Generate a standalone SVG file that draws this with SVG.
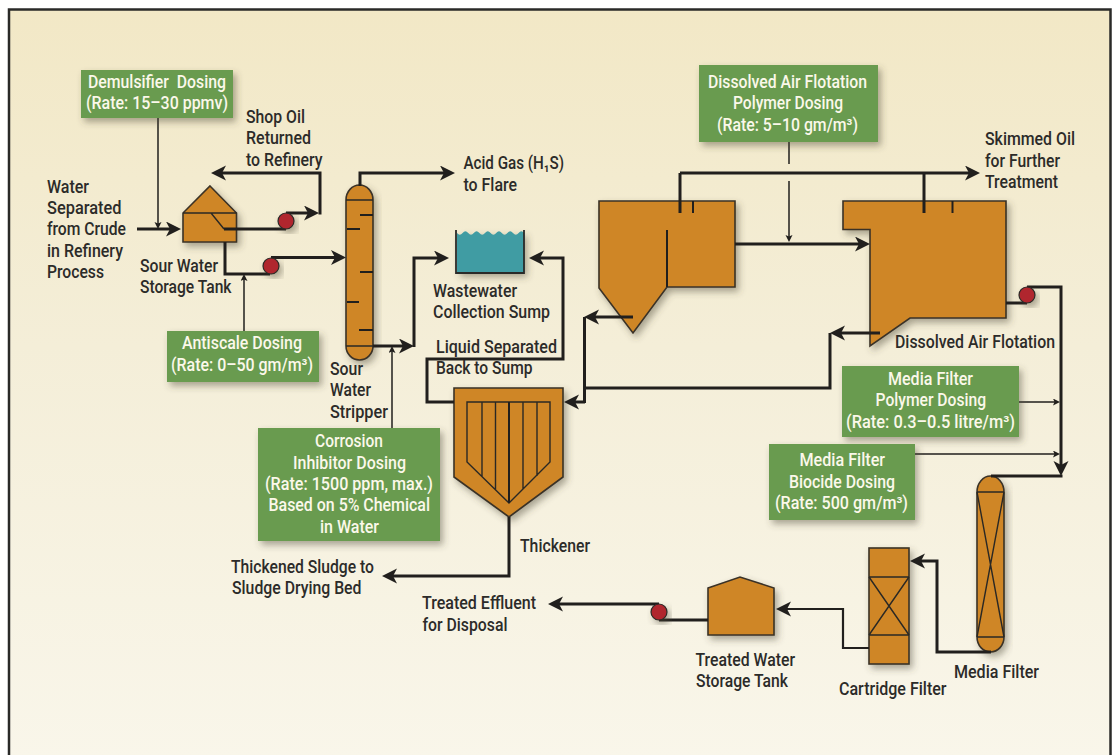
<svg xmlns="http://www.w3.org/2000/svg" width="1113" height="755" viewBox="0 0 1113 755">
<style>
text{font-family:Roboto,"Liberation Sans",Arial,sans-serif;font-size:17.500px;font-weight:500}
.d{fill:#2c2b29}
.w{fill:#fbf8ea}
.tank{fill:#cf8627;stroke:#3a3226;stroke-width:1.600;stroke-linejoin:miter}
.box{fill:#699b4f}
.pump{fill:#b0272d;stroke:#2a2a28;stroke-width:1.200}
.in{fill:none;stroke:#2a2824;stroke-width:1.400}
.tray{fill:none;stroke:#211f1d;stroke-width:2}
.pipe{fill:none;stroke:#211f1d;stroke-width:3}
.med{fill:none;stroke:#211f1d;stroke-width:2.200}
.thin{fill:none;stroke:#211f1d;stroke-width:1.500}
.a{marker-end:url(#big)}
.s{marker-end:url(#small)}
</style>
<defs>
<linearGradient id="bg" x1="0" y1="0" x2="0" y2="1">
<stop offset="0" stop-color="#f2e8c6"/><stop offset="0.45" stop-color="#f4eed8"/><stop offset="1" stop-color="#f9f6ea"/>
</linearGradient>
<filter id="sh" x="-20%" y="-20%" width="150%" height="150%">
<feDropShadow dx="3" dy="4" stdDeviation="3.500" flood-color="#4a4535" flood-opacity="0.45"/>
</filter>
<marker id="big" markerUnits="userSpaceOnUse" markerWidth="18" markerHeight="16" refX="9" refY="7.500" orient="auto">
<path d="M0 0 L15 7.500 L0 15 L4 7.500 Z" fill="#211f1d"/>
</marker>
<marker id="small" markerUnits="userSpaceOnUse" markerWidth="10" markerHeight="10" refX="3" refY="3.500" orient="auto">
<path d="M0 0 L7 3.500 L0 7 L1.500 3.500 Z" fill="#211f1d"/>
</marker>
</defs>

<rect id="frame" x="9" y="9.500" width="1101.500" height="750" fill="url(#bg)" stroke="#2a2a28" stroke-width="2.500"/>

<g id="sour-water-storage-tank">
<path class="tank" filter="url(#sh)" d="M210 186 L236.500 213 V242 H183 V213 Z"/>
<path class="in" d="M183 213 H236.500 M211 213 L224 229"/>
<text class="d" x="140" y="272" textLength="78" lengthAdjust="spacingAndGlyphs">Sour Water</text>
<text class="d" x="140" y="293" textLength="91.500" lengthAdjust="spacingAndGlyphs">Storage Tank</text>
</g>

<g id="sour-water-stripper">
<path class="tank" filter="url(#sh)" d="M346 200 A13.500 15 0 0 1 373 200 V346 A13.500 14 0 0 1 346 346 Z"/>
<path class="in" d="M346 200 H373 M346 346 H373"/>
<path class="tray" d="M360 215 H373 M347 229 H360 M360 272 H373 M347 302 H359 M359 330 H373"/>
<text class="d" x="330" y="375" textLength="33" lengthAdjust="spacingAndGlyphs">Sour</text>
<text class="d" x="330" y="396" textLength="41" lengthAdjust="spacingAndGlyphs">Water</text>
<text class="d" x="330" y="418" textLength="58" lengthAdjust="spacingAndGlyphs">Stripper</text>
</g>

<g id="wastewater-collection-sump">
<path filter="url(#sh)" fill="#3f9ca3" d="M457 233 q2.800 3.500 5.600 0 t5.600 0 t5.600 0 t5.600 0 t5.600 0 t5.600 0 t5.600 0 t5.600 0 t5.600 0 t5.600 0 t5.600 0 t5.600 0 V273 H457 Z"/>
<path fill="none" stroke="#2a2a28" stroke-width="1.800" d="M456 230 V273 H524 V230"/>
<text class="d" x="433" y="297" textLength="84" lengthAdjust="spacingAndGlyphs">Wastewater</text>
<text class="d" x="433" y="318" textLength="117" lengthAdjust="spacingAndGlyphs">Collection Sump</text>
</g>

<g id="thickener">
<path class="tank" filter="url(#sh)" d="M454 388 H563 V477 L509 517 L454 477 Z"/>
<path class="in" d="M467 402 H550 V462 L509 503 L467 462 Z M482 402 V477 M495.500 402 V490 M523 402 V489 M537 402 V476"/>
<path class="tray" d="M509 402 V503"/>
<text class="d" x="520" y="552" textLength="70" lengthAdjust="spacingAndGlyphs">Thickener</text>
</g>

<g id="daf-separator">
<path class="tank" filter="url(#sh)" d="M599 201 H735 V287 H667 L633 333 L599 288 Z"/>
<path class="tray" d="M667 230 V287 M693 201 V213"/>
</g>

<g id="dissolved-air-flotation">
<path class="tank" filter="url(#sh)" d="M843 201 H1006 V318 H910 L870 346 V229.500 H843 Z"/>
<path class="tray" d="M952.500 201 V213"/>
<text class="d" x="895" y="348" textLength="160" lengthAdjust="spacingAndGlyphs">Dissolved Air Flotation</text>
</g>

<g id="media-filter">
<path class="tank" filter="url(#sh)" d="M977 492 A13.500 16 0 0 1 1004 492 V637 A13.500 15 0 0 1 977 637 Z"/>
<path class="in" d="M977 492 H1004 M977 637 H1004 M977 492 L1004 637 M1004 492 L977 637"/>
<text class="d" x="954" y="678" textLength="85" lengthAdjust="spacingAndGlyphs">Media Filter</text>
</g>

<g id="cartridge-filter">
<rect class="tank" filter="url(#sh)" x="869" y="548" width="40" height="116"/>
<path class="in" d="M869 577 H909 M869 635 H909 M869 577 L909 635 M909 577 L869 635"/>
<text class="d" x="839" y="695" textLength="107.500" lengthAdjust="spacingAndGlyphs">Cartridge Filter</text>
</g>

<g id="treated-water-storage-tank">
<path class="tank" filter="url(#sh)" d="M708 588 L740 577 L774 588 V635 H708 Z"/>
<text class="d" x="695.500" y="666" textLength="99.500" lengthAdjust="spacingAndGlyphs">Treated Water</text>
<text class="d" x="696" y="687" textLength="92" lengthAdjust="spacingAndGlyphs">Storage Tank</text>
</g>

<g id="connectors">
<path class="pipe a" d="M137 229 H175"/>
<path class="pipe" d="M224 229 H286"/>
<path class="pipe a" d="M286 213 H313"/>
<path class="pipe a" d="M320 214.500 V173 H217"/>
<path class="pipe" d="M225 242 V274 H270"/>
<path class="pipe a" d="M271 257.500 H340"/>
<path class="pipe a" d="M360 186 V173 H449"/>
<path class="pipe a" d="M373 346 H408"/>
<path class="pipe a" d="M414 347 V258 H443"/>
<path class="pipe a" d="M454 402 H427 V359 H563 V258 H535"/>
<path class="pipe a" d="M509 517 V576 H388"/>
<path class="pipe a" d="M585 402 H570"/>
<path class="pipe a" d="M633 317 H590"/>
<path class="pipe" d="M584.500 317 V403"/>
<path class="pipe" d="M584.500 388 H830 V333"/>
<path class="pipe a" d="M880 333 H836"/>
<path class="pipe" d="M680 213 V173"/>
<path class="pipe a" d="M680 173 H974"/>
<path class="pipe" d="M924 173 V213"/>
<path class="pipe a" d="M735 244 H864"/>
<path class="pipe" d="M1006 303 H1027"/>
<path class="pipe a" d="M1027 287 H1061 V470"/>
<path class="pipe" d="M1062.500 476 H991"/>
<path class="pipe a" d="M991 652 H937 V561 H916"/>
<path class="med a" d="M869 648 H843 V609 H782"/>
<path class="pipe" d="M708 620 H659"/>
<path class="pipe a" d="M659 604 H554"/>
<path class="thin s" d="M158 118 V225"/>
<path class="thin s" d="M244 331 V278"/>
<path class="thin s" d="M392 428 V350"/>
<path class="thin" d="M789 142 V164"/>
<path class="thin s" d="M789 181 V238"/>
<path class="thin s" d="M1019 402 H1056"/>
<path class="thin s" d="M915 454 H1056"/>
</g>

<g id="pump-1"><circle class="pump" filter="url(#sh)" cx="286" cy="221" r="8"/></g>
<g id="pump-2"><circle class="pump" filter="url(#sh)" cx="271" cy="266" r="8"/></g>
<g id="pump-3"><circle class="pump" filter="url(#sh)" cx="1027" cy="295" r="8"/></g>
<g id="pump-4"><circle class="pump" filter="url(#sh)" cx="659" cy="612" r="8"/></g>

<g id="demulsifier-dosing">
<rect class="box" filter="url(#sh)" x="81" y="70" width="152" height="48"/>
<text class="w" x="88" y="88" textLength="138" lengthAdjust="spacingAndGlyphs" xml:space="preserve">Demulsifier  Dosing</text>
<text class="w" x="86" y="109" textLength="142" lengthAdjust="spacingAndGlyphs">(Rate: 15–30 ppmv)</text>
</g>
<g id="antiscale-dosing">
<rect class="box" filter="url(#sh)" x="167" y="331" width="152" height="51"/>
<text class="w" x="182" y="349" textLength="120" lengthAdjust="spacingAndGlyphs">Antiscale Dosing</text>
<text class="w" x="171" y="371" textLength="142" lengthAdjust="spacingAndGlyphs">(Rate: 0–50 gm/m³)</text>
</g>
<g id="daf-polymer-dosing">
<rect class="box" filter="url(#sh)" x="699" y="65" width="179" height="77"/>
<text class="w" x="708" y="88" textLength="159" lengthAdjust="spacingAndGlyphs">Dissolved Air Flotation</text>
<text class="w" x="733" y="109" textLength="110" lengthAdjust="spacingAndGlyphs">Polymer Dosing</text>
<text class="w" x="717" y="131" textLength="141" lengthAdjust="spacingAndGlyphs">(Rate: 5–10 gm/m³)</text>
</g>
<g id="corrosion-inhibitor-dosing">
<rect class="box" filter="url(#sh)" x="258" y="428" width="182" height="113"/>
<text class="w" x="315" y="447" textLength="68" lengthAdjust="spacingAndGlyphs">Corrosion</text>
<text class="w" x="293" y="469" textLength="113" lengthAdjust="spacingAndGlyphs">Inhibitor Dosing</text>
<text class="w" x="265" y="490" textLength="168" lengthAdjust="spacingAndGlyphs">(Rate: 1500 ppm, max.)</text>
<text class="w" x="268.500" y="511" textLength="161.500" lengthAdjust="spacingAndGlyphs">Based on 5% Chemical</text>
<text class="w" x="320" y="533" textLength="59" lengthAdjust="spacingAndGlyphs">in Water</text>
</g>
<g id="media-filter-polymer-dosing">
<rect class="box" filter="url(#sh)" x="842" y="366" width="177" height="71"/>
<text class="w" x="888" y="385" textLength="85" lengthAdjust="spacingAndGlyphs">Media Filter</text>
<text class="w" x="875.500" y="406" textLength="110.500" lengthAdjust="spacingAndGlyphs">Polymer Dosing</text>
<text class="w" x="846" y="428" textLength="169" lengthAdjust="spacingAndGlyphs">(Rate: 0.3–0.5 litre/m³)</text>
</g>
<g id="media-filter-biocide-dosing">
<rect class="box" filter="url(#sh)" x="769" y="444" width="146" height="76"/>
<text class="w" x="799.500" y="466" textLength="85.500" lengthAdjust="spacingAndGlyphs">Media Filter</text>
<text class="w" x="789" y="488" textLength="106" lengthAdjust="spacingAndGlyphs">Biocide Dosing</text>
<text class="w" x="775" y="509" textLength="133" lengthAdjust="spacingAndGlyphs">(Rate: 500 gm/m³)</text>
</g>

<g id="labels">
<text class="d" x="47" y="193" textLength="42" lengthAdjust="spacingAndGlyphs">Water</text>
<text class="d" x="47" y="214" textLength="74.500" lengthAdjust="spacingAndGlyphs">Separated</text>
<text class="d" x="47" y="235" textLength="79" lengthAdjust="spacingAndGlyphs">from Crude</text>
<text class="d" x="47" y="257" textLength="76" lengthAdjust="spacingAndGlyphs">in Refinery</text>
<text class="d" x="47" y="278" textLength="57" lengthAdjust="spacingAndGlyphs">Process</text>
<text class="d" x="246" y="123" textLength="59" lengthAdjust="spacingAndGlyphs">Shop Oil</text>
<text class="d" x="246" y="144" textLength="65" lengthAdjust="spacingAndGlyphs">Returned</text>
<text class="d" x="246" y="166" textLength="76.500" lengthAdjust="spacingAndGlyphs">to Refinery</text>
<text class="d" x="463.500" y="169" textLength="100.500" lengthAdjust="spacingAndGlyphs">Acid Gas (H₁S)</text>
<text class="d" x="463.500" y="191" textLength="53.500" lengthAdjust="spacingAndGlyphs">to Flare</text>
<text class="d" x="436" y="353" textLength="121" lengthAdjust="spacingAndGlyphs">Liquid Separated</text>
<text class="d" x="436" y="374" textLength="96.500" lengthAdjust="spacingAndGlyphs">Back to Sump</text>
<text class="d" x="231" y="573" textLength="143" lengthAdjust="spacingAndGlyphs">Thickened Sludge to</text>
<text class="d" x="232" y="594" textLength="129.500" lengthAdjust="spacingAndGlyphs">Sludge Drying Bed</text>
<text class="d" x="422" y="609" textLength="114" lengthAdjust="spacingAndGlyphs">Treated Effluent</text>
<text class="d" x="422.500" y="631" textLength="85" lengthAdjust="spacingAndGlyphs">for Disposal</text>
<text class="d" x="985" y="145" textLength="90" lengthAdjust="spacingAndGlyphs">Skimmed Oil</text>
<text class="d" x="985" y="167" textLength="75" lengthAdjust="spacingAndGlyphs">for Further</text>
<text class="d" x="985" y="188" textLength="73" lengthAdjust="spacingAndGlyphs">Treatment</text>
</g>
</svg>
